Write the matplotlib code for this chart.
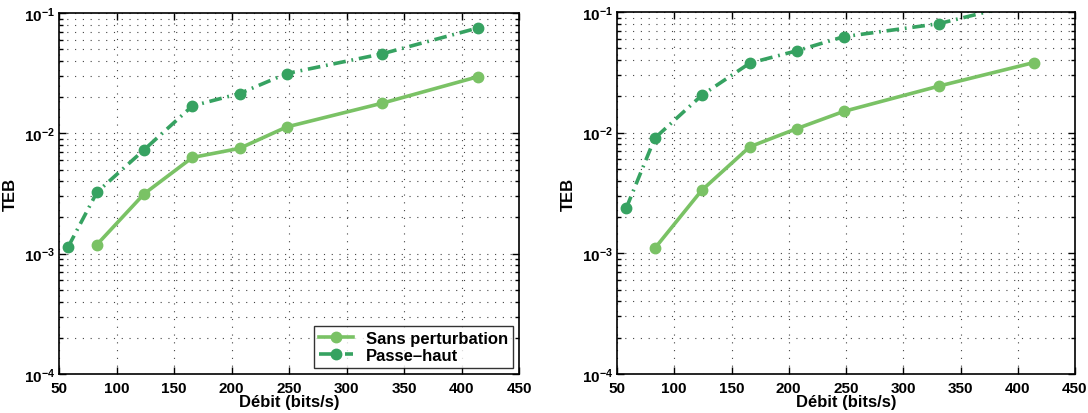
import matplotlib
matplotlib.use("Agg")
import matplotlib.pyplot as plt
from matplotlib.ticker import LogLocator, NullFormatter

plt.rcParams['font.family'] = ['Liberation Sans', 'DejaVu Sans']
plt.rcParams['font.weight'] = 'bold'

debit = [58, 83, 124, 166, 207, 248, 331, 414]

left_sans_x = [83, 124, 166, 207, 248, 331, 414]
left_sans = [1.19e-3, 3.14e-3, 6.3e-3, 7.5e-3, 1.13e-2, 1.78e-2, 2.95e-2]
left_passe = [1.14e-3, 3.24e-3, 7.3e-3, 1.69e-2, 2.14e-2, 3.14e-2, 4.58e-2, 7.5e-2]

right_sans_x = [83, 124, 166, 207, 248, 331, 414]
right_sans = [1.10e-3, 3.33e-3, 7.64e-3, 1.08e-2, 1.50e-2, 2.43e-2, 3.81e-2]
right_passe = [2.36e-3, 9.0e-3, 2.04e-2, 3.77e-2, 4.77e-2, 6.24e-2, 8.0e-2, 1.25e-1]

labels = ['Sans perturbation', 'Passe\u2013haut']
c_sans = '#7ac265'
c_passe = '#36a261'
dashdot = (0, (3.5, 1.6, 0.5, 1.6))
gridstyle = (0, (1, 6))

W, H = 1088, 414
fig = plt.figure(figsize=(W / 100, H / 100), dpi=100)
ax1 = fig.add_axes([59 / W, 1 - 375 / H, 460 / W, 361 / H])
ax2 = fig.add_axes([617 / W, 1 - 375 / H, 458 / W, 362 / H])

for ax, sx, sy, py, leg in [(ax1, left_sans_x, left_sans, left_passe, True),
                             (ax2, right_sans_x, right_sans, right_passe, False)]:
    ax.plot(sx, sy, '-', color=c_sans, lw=2.6, marker='o', ms=7.5, label=labels[0])
    ax.plot(debit, py, linestyle=dashdot, color=c_passe, lw=2.6, marker='o', ms=7.5, label=labels[1])
    ax.set_yscale('log')
    ax.set_xlim(50, 450)
    ax.set_ylim(1e-4, 1e-1)
    ax.set_xticks(range(50, 451, 50))
    ax.yaxis.set_major_locator(LogLocator(base=10, numticks=10))
    ax.yaxis.set_minor_locator(LogLocator(base=10, subs=range(2, 10), numticks=20))
    ax.yaxis.set_minor_formatter(NullFormatter())
    ax.grid(True, which='major', axis='both', linestyle=gridstyle, color='#444444', lw=0.8)
    ax.grid(True, which='minor', axis='y', linestyle=gridstyle, color='#444444', lw=0.8)
    ax.tick_params(direction='in', which='both', top=True, right=True, labelsize=11, width=1)
    ax.tick_params(axis='x', pad=5)
    ax.tick_params(axis='y', pad=3)
    ax.tick_params(which='major', length=5)
    ax.tick_params(which='minor', length=3)
    for lab in ax.get_xticklabels() + ax.get_yticklabels():
        lab.set_fontweight('bold')
    for s in ax.spines.values():
        s.set_linewidth(1.2)
    ax.set_xlabel('Débit (bits/s)', fontsize=12, fontweight='bold', labelpad=-1)
    ax.set_ylabel('TEB', fontsize=12, fontweight='bold', labelpad=4)
    if leg:
        lg = ax.legend(loc='lower right', fontsize=12, frameon=True, fancybox=False,
                       edgecolor='black', borderaxespad=0.35, handlelength=2.0,
                       labelspacing=0.15, borderpad=0.3)
        lg.get_frame().set_linewidth(1.0)
        for t in lg.get_texts():
            t.set_fontweight('bold')

fig.savefig('out.png', dpi=100)
